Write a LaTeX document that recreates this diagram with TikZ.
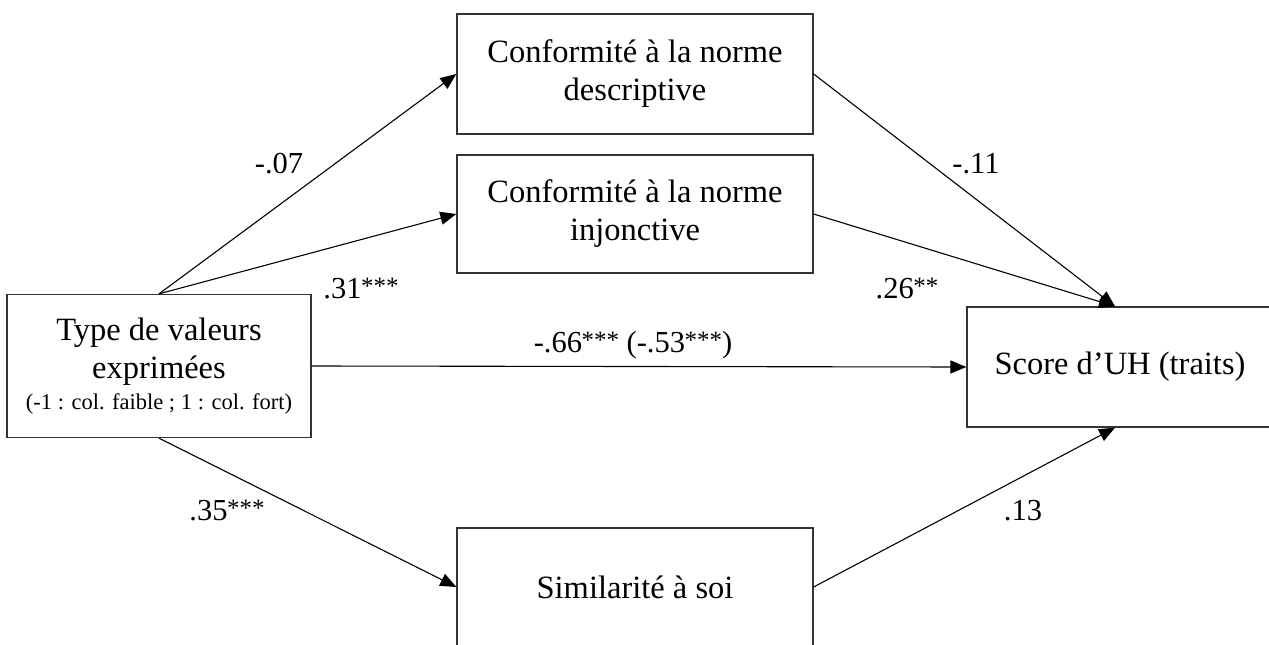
\documentclass[tikz,border=0pt]{standalone}
\usepackage{fontspec}
\setmainfont{Liberation Serif}
\usetikzlibrary{arrows.meta}
\newcommand\sigstars[1]{\raisebox{4pt}{\fontsize{25}{25}\selectfont\kern-0.5pt #1}}
\begin{document}
\begin{tikzpicture}[x=1pt,y=-1pt,
  box/.style={draw=black!80, line width=1.3pt, minimum width=356pt, minimum height=120pt,
    inner sep=0pt, align=center, font=\fontsize{32.5}{38}\selectfont},
  conn/.style={line width=1.1pt, -{Triangle[length=16pt,width=13pt]}},
  lab/.style={font=\fontsize{30.5}{36}\selectfont, inner sep=0pt, anchor=base}]
\useasboundingbox (0,0) rectangle (1269,645);
\clip (0,0) rectangle (1269,645);
\node[box] (desc) at (635,74) {Conformité à la norme\\descriptive};
\node[box, minimum height=118pt] (inj) at (635,214) {Conformité à la norme\\injonctive};
\node[box, minimum width=304pt, minimum height=143pt] (type) at (159,366)
  {Type de valeurs\\exprimées\\[-7pt]{\fontsize{22.5}{26}\selectfont (-1 : col. faible ; 1 : col. fort)}};
\node[box, minimum width=306pt, minimum height=120pt] (score) at (1120,367) {Score d’UH (traits)};
\node[box, minimum height=118pt] (sim) at (635,587) {Similarité à soi};
\draw[conn] (type.north) -- (desc.west);
\draw[conn] (type.north) -- (inj.west);
\draw[conn] (desc.east) -- ([xshift=-5pt]score.north);
\draw[conn] (inj.east) -- ([xshift=-5pt]score.north);
\draw[conn] (type.east) -- (score.west);
\draw[conn] (type.south) -- (sim.west);
\draw[conn] (sim.east) -- ([xshift=-5pt]score.south);
\node[lab] (l1) at (279,173) {-.07};
\node[lab] (l2) at (361,298) {.31\sigstars{***}};
\node[lab] (l3) at (976,173) {-.11};
\node[lab] (l4) at (907,298) {.26\sigstars{**}};
\node[lab] (l5) at (633,352) {-.66\sigstars{***} (-.53\sigstars{***})};
\node[lab] (l6) at (227,520) {.35\sigstars{***}};
\node[lab] (l7) at (1023,520) {.13};
\end{tikzpicture}
\end{document}
